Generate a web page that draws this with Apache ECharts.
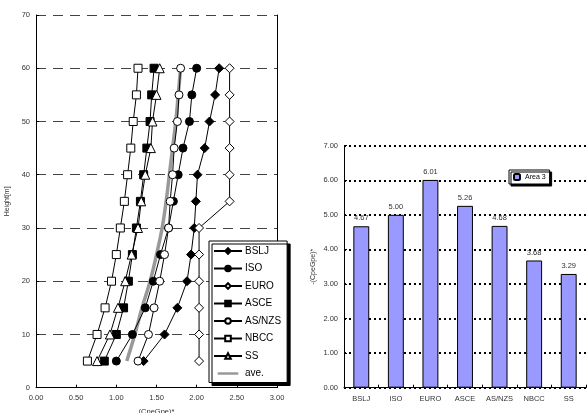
<!DOCTYPE html>
<html><head><meta charset="utf-8">
<script src="https://cdn.jsdelivr.net/npm/echarts@6/dist/echarts.min.js"></script>
<style>html,body{margin:0;padding:0;background:#fff}#c{width:587px;height:413px}</style>
</head><body><div id="c"></div>
<script>
// Left chart data
const heights = [5,10,15,20,25,30,35,40,45,50,55,60];
const BSLJ  = [1.34,1.60,1.76,1.88,1.93,1.97,1.99,2.01,2.10,2.16,2.23,2.28];
const ISO   = [1.00,1.20,1.36,1.46,1.55,1.65,1.71,1.77,1.83,1.91,1.94,2.00];
const EURO  = [2.03,2.03,2.03,2.03,2.03,2.03,2.41,2.41,2.41,2.41,2.41,2.41];
const ASCE  = [0.85,1.00,1.09,1.15,1.20,1.25,1.30,1.34,1.38,1.42,1.44,1.47];
const ASNZS = [1.27,1.40,1.47,1.54,1.60,1.65,1.67,1.70,1.72,1.76,1.78,1.80];
const NBCC  = [0.64,0.76,0.86,0.94,1.00,1.05,1.10,1.14,1.18,1.21,1.25,1.27];
const SS    = [0.76,0.92,1.02,1.11,1.19,1.27,1.31,1.36,1.43,1.45,1.50,1.54];
const AVE   = [1.13,1.23,1.32,1.42,1.50,1.57,1.62,1.66,1.70,1.74,1.77,1.80];
const xTicks = ['0.00','0.50','1.00','1.50','2.00','2.50','3.00'];
// Right chart data
const codes = ['BSLJ','ISO','EURO','ASCE','AS/NZS','NBCC','SS'];
const area3 = [4.67,5.00,6.01,5.26,4.68,3.68,3.29];

const pairs = arr => arr.map((v,i)=>[v,heights[i]]);
const FONT = 'Liberation Sans';
const blk = '#000';
function lineSeries(name, arr, symbol, filled){
  return {name, type:'line', xAxisIndex:0, yAxisIndex:0, data:pairs(arr), symbol, symbolSize: symbol==='diamond'?9:(symbol==='triangle'?9:8),
    lineStyle:{color:blk,width:1}, itemStyle:{color: filled?blk:'#fff', borderColor:blk, borderWidth:1}, emphasis:{disabled:true}, z:3};
}
const chart = echarts.init(document.getElementById('c'), null, {renderer:'canvas'});
chart.setOption({
  animation:false,
  textStyle:{fontFamily:FONT},
  grid:[
    {left:36, right:310, top:15, bottom:25.3, containLabel:false, outerBoundsMode:'none'},
    {left:344, right:1, top:145.7, bottom:25.3, containLabel:false, outerBoundsMode:'none'}
  ],
  legend:[
    {left:209, top:241, orient:'vertical', itemWidth:28, itemHeight:7, itemGap:7.5,
      padding:[5,6,4,4], backgroundColor:'#fff', borderColor:'#000', borderWidth:1,
      shadowColor:'#000', shadowOffsetX:3, shadowOffsetY:3, shadowBlur:0,
      textStyle:{fontSize:10, color:'#000', fontFamily:FONT, padding:[0,0,0,-2]},
      data:['BSLJ','ISO','EURO','ASCE','AS/NZS','NBCC','SS',
        {name:'ave.', icon:'path://M0,0L0.01,0M0,3H28V6.5H0ZM0,9.5L0.01,9.5'}]},
    {left:509, top:170, orient:'vertical', itemWidth:6, itemHeight:6, padding:[3,4,3,4],
      backgroundColor:'#fff', borderColor:'#000', borderWidth:1,
      shadowColor:'#000', shadowOffsetX:2, shadowOffsetY:2, shadowBlur:0,
      textStyle:{fontSize:7, color:'#000', fontFamily:FONT},
      data:['Area 3']}
  ],
  xAxis:[
    {type:'value', gridIndex:0, min:0, max:3, interval:0.5,
      axisLine:{show:true, onZero:false, lineStyle:{color:'#000', width:1}},
      axisTick:{show:true, inside:true, length:3, lineStyle:{color:'#000'}},
      axisLabel:{fontSize:7.5, color:'#333', margin:6, formatter:v=>xTicks[Math.round(v/0.5)]},
      splitLine:{show:false},
      name:'(CpeGpe)*', nameLocation:'middle', nameGap:20, nameTextStyle:{fontSize:7.5, color:'#333'}},
    {type:'category', gridIndex:1, data:codes, boundaryGap:true,
      axisLine:{show:true, lineStyle:{color:'#000', width:1}},
      axisTick:{show:true, inside:true, length:3, lineStyle:{color:'#000'}},
      axisLabel:{fontSize:7.5, color:'#333', margin:7, interval:0, hideOverlap:false}}
  ],
  yAxis:[
    {type:'value', gridIndex:0, min:0, max:70, interval:10,
      axisLine:{show:true, lineStyle:{color:'#000', width:1}},
      axisTick:{show:true, inside:true, length:3, lineStyle:{color:'#000'}},
      axisLabel:{fontSize:7.5, color:'#333', margin:6},
      splitLine:{show:true, lineStyle:{color:'#444', width:1, type:[10,7]}},
      name:'Height[m]', nameLocation:'middle', nameGap:25, nameTextStyle:{fontSize:7, color:'#333'}},
    {type:'value', gridIndex:0, position:'right', min:0, max:70, interval:10,
      axisLine:{show:true, lineStyle:{color:'#000', width:1}}, axisTick:{show:false}, axisLabel:{show:false}, splitLine:{show:false}},
    {type:'value', gridIndex:1, min:0, max:7, interval:1,
      axisLine:{show:true, lineStyle:{color:'#000', width:1}},
      axisTick:{show:true, inside:true, length:3, lineStyle:{color:'#000'}},
      axisLabel:{fontSize:7.5, color:'#333', margin:6, formatter:v=>v.toFixed(2)},
      splitLine:{show:true, lineStyle:{color:'#000', width:2, type:[2,3]}},
      name:'-(CpeGpe)*', nameLocation:'middle', nameGap:27, nameTextStyle:{fontSize:7, color:'#333'}}
  ],
  series:[
    {name:'ave.', type:'line', xAxisIndex:0, yAxisIndex:0, data:pairs(AVE), symbol:'none', smooth:true,
      lineStyle:{color:'#999', width:3.5}, itemStyle:{color:'#999'}, z:2},
    lineSeries('BSLJ', BSLJ, 'diamond', true),
    lineSeries('ISO', ISO, 'circle', true),
    lineSeries('EURO', EURO, 'diamond', false),
    lineSeries('ASCE', ASCE, 'rect', true),
    lineSeries('AS/NZS', ASNZS, 'circle', false),
    lineSeries('NBCC', NBCC, 'rect', false),
    lineSeries('SS', SS, 'triangle', false),
    {name:'Area 3', type:'bar', xAxisIndex:1, yAxisIndex:2, data:area3, barWidth:'46%',
      itemStyle:{color:'#9999ff', borderColor:'#000', borderWidth:1},
      label:{show:true, position:'top', distance:4, fontSize:7.5, color:'#333', formatter:p=>p.value.toFixed(2)}}
  ]
});
</script></body></html>
